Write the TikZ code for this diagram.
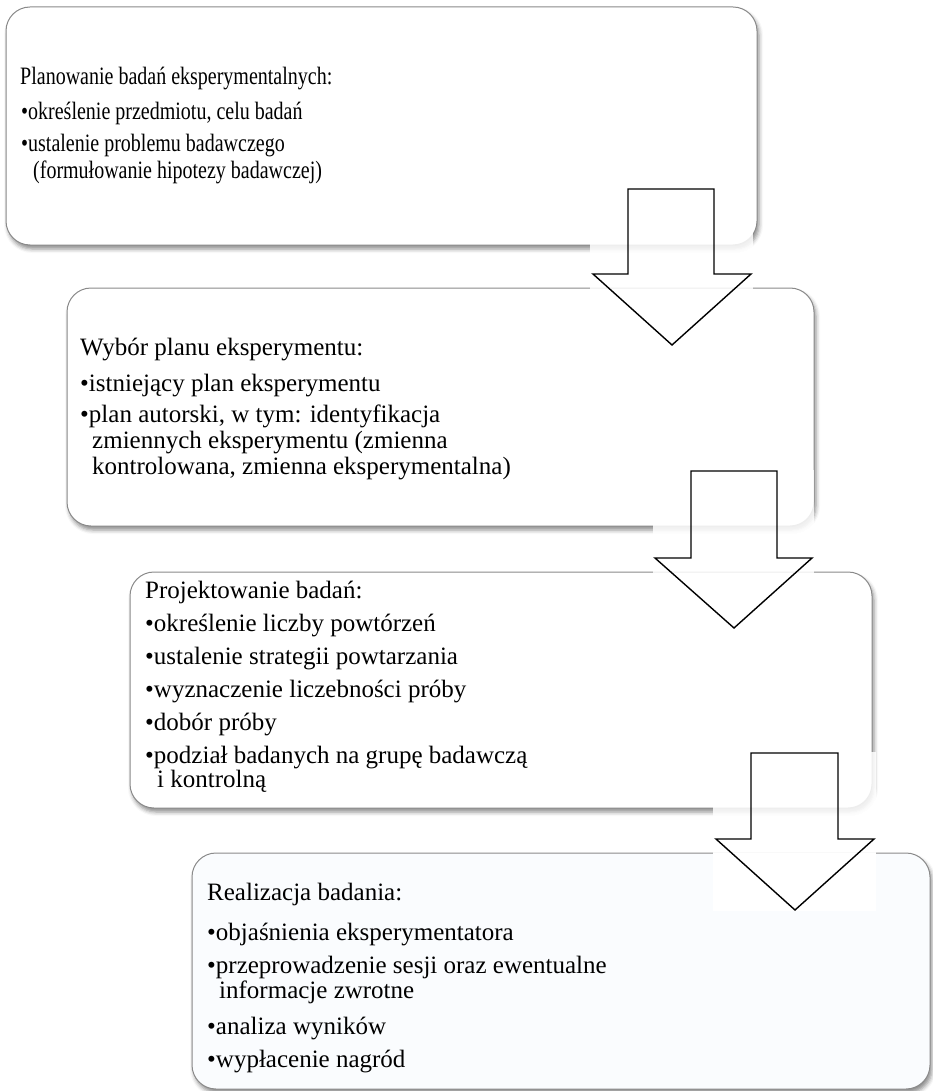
\documentclass[tikz,border=0pt]{standalone}
\usepackage{fontspec}
\setmainfont{Liberation Serif}
\usetikzlibrary{shadows.blur}
\definecolor{boxline}{HTML}{8A8A8A}
\definecolor{lastfill}{HTML}{FAFCFE}
\tikzset{
  stagebox/.style={draw=boxline, line width=1pt, rounded corners=24pt, fill=white,
    blur shadow={shadow xshift=2pt, shadow yshift=-4pt, shadow blur radius=4pt, shadow opacity=45}},
  txt/.style={anchor=base west, inner sep=0pt, font=\fontsize{25}{30}\selectfont},
  veil/.style={fill=white, fill opacity=0.85},
  blockarrow/.style={draw=black, line width=1.4pt, line join=miter}
}
\newcommand{\cnd}[1]{\scalebox{0.8}[1]{#1}}
\begin{document}
\begin{tikzpicture}[x=1pt,y=-1pt]
\useasboundingbox (0,0) rectangle (932,1091);
% boxes
\draw[stagebox] (6,7) rectangle (757,245);
\node[inner sep=0, minimum size=0] (b1) at (381,126) {};
\draw[stagebox] (67,288) rectangle (814,526);
\node[inner sep=0] (b2) at (440,407) {};
\draw[stagebox] (130,572) rectangle (872,808);
\node[inner sep=0] (b3) at (501,690) {};
\draw[stagebox, fill=lastfill] (192,853) rectangle (930,1089);
\node[inner sep=0] (b4) at (561,971) {};
% box 1 text
\node[txt] (t1h) at (20,85) {\cnd{Planowanie badań eksperymentalnych:}};
\node[txt] (t1a) at (21,120) {\cnd{\textbullet określenie przedmiotu, celu badań}};
\node[txt] (t1b) at (21,152) {\cnd{\textbullet ustalenie problemu badawczego}};
\node[txt] (t1c) at (33,179) {\cnd{(formułowanie hipotezy badawczej)}};
% box 2 text
\node[txt] (t2h) at (80,355) {Wybór planu eksperymentu:};
\node[txt] (t2a) at (80,391) {\textbullet istniejący plan eksperymentu};
\node[txt] (t2b) at (80,422) {\textbullet plan autorski, w tym: identyfikacja};
\node[txt] (t2c) at (92,448) {zmiennych eksperymentu (zmienna};
\node[txt] (t2d) at (92,474) {kontrolowana, zmienna eksperymentalna)};
% box 3 text
\node[txt] (t3h) at (145,598) {Projektowanie badań:};
\node[txt] (t3a) at (145,631) {\textbullet określenie liczby powtórzeń};
\node[txt] (t3b) at (145,664) {\textbullet ustalenie strategii powtarzania};
\node[txt] (t3c) at (145,697) {\textbullet wyznaczenie liczebności próby};
\node[txt] (t3d) at (145,730) {\textbullet dobór próby};
\node[txt] (t3e) at (145,763) {\textbullet podział badanych na grupę badawczą};
\node[txt] (t3f) at (157,787) {i kontrolną};
% box 4 text
\node[txt] (t4h) at (207,900) {Realizacja badania:};
\node[txt] (t4a) at (207,940) {\textbullet objaśnienia eksperymentatora};
\node[txt] (t4b) at (207,973) {\textbullet przeprowadzenie sesji oraz ewentualne};
\node[txt] (t4c) at (219,998) {informacje zwrotne};
\node[txt] (t4d) at (207,1034) {\textbullet analiza wyników};
\node[txt] (t4e) at (207,1067) {\textbullet wypłacenie nagród};
% block arrows
\fill[veil] (590,188) rectangle (753,346);
\draw[blockarrow] (628,189) -- (714,189) -- (714,274) -- (751,274) -- (672,345) -- (593,274) -- (628,274) -- cycle;
\fill[veil] (653,470) rectangle (814,629);
\draw[blockarrow] (691,471) -- (777,471) -- (777,558) -- (812,558) -- (734,628) -- (655,558) -- (691,558) -- cycle;
\fill[white] (713,853) rectangle (876,911);
\fill[veil] (713,752) rectangle (876,853);
\draw[blockarrow] (751,753) -- (838,753) -- (838,839) -- (874,839) -- (795,910) -- (716,839) -- (751,839) -- cycle;
\end{tikzpicture}
\end{document}
